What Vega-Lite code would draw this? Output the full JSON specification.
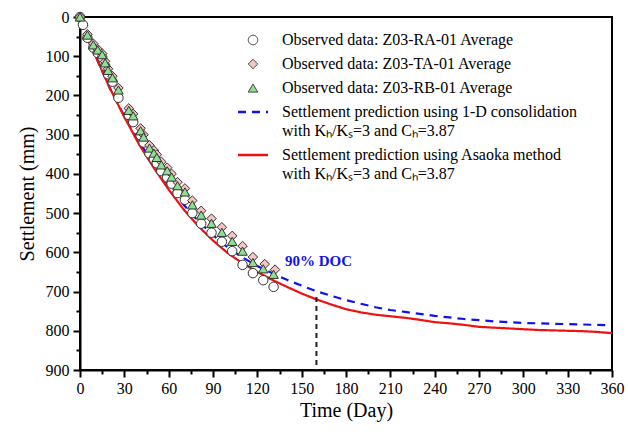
{
  "$schema": "https://vega.github.io/schema/vega-lite/v6.json",
  "width": 532,
  "height": 353,
  "autosize": {"type": "none"},
  "padding": {"left": 80, "top": 17, "right": 16, "bottom": 74},
  "background": "white",
  "config": {
    "view": {"stroke": "black", "strokeWidth": 2},
    "axis": {
      "labelFont": "Liberation Serif", "labelFontSize": 16, "labelColor": "black", "labelFontWeight": "normal",
      "titleFont": "Liberation Serif", "titleFontSize": 20, "titleFontWeight": "normal", "titleColor": "black",
      "domainColor": "black", "domainWidth": 2, "tickColor": "black", "tickWidth": 2, "grid": false, "labelFlush": false, "labelOverlap": false
    },
    "legend": {
      "labelFont": "Liberation Serif", "labelFontSize": 16, "labelColor": "black", "labelLimit": 0
    }
  },
  "datasets": {
    "curves": [
      {"series": "D", "day": 3, "mm": 40}, {"series": "D", "day": 10, "mm": 95}, {"series": "D", "day": 20, "mm": 180},
      {"series": "D", "day": 30, "mm": 253}, {"series": "D", "day": 40, "mm": 318}, {"series": "D", "day": 50, "mm": 376},
      {"series": "D", "day": 60, "mm": 430}, {"series": "D", "day": 70, "mm": 478}, {"series": "D", "day": 80, "mm": 520},
      {"series": "D", "day": 90, "mm": 556}, {"series": "D", "day": 100, "mm": 588}, {"series": "D", "day": 110, "mm": 613},
      {"series": "D", "day": 120, "mm": 635}, {"series": "D", "day": 130, "mm": 653}, {"series": "D", "day": 140, "mm": 670},
      {"series": "D", "day": 150, "mm": 685}, {"series": "D", "day": 160, "mm": 699}, {"series": "D", "day": 170, "mm": 711},
      {"series": "D", "day": 180, "mm": 722}, {"series": "D", "day": 190, "mm": 731}, {"series": "D", "day": 200, "mm": 740},
      {"series": "D", "day": 210, "mm": 747}, {"series": "D", "day": 220, "mm": 752}, {"series": "D", "day": 230, "mm": 757},
      {"series": "D", "day": 240, "mm": 762}, {"series": "D", "day": 250, "mm": 766}, {"series": "D", "day": 260, "mm": 770},
      {"series": "D", "day": 270, "mm": 773}, {"series": "D", "day": 280, "mm": 776}, {"series": "D", "day": 290, "mm": 778},
      {"series": "D", "day": 300, "mm": 780}, {"series": "D", "day": 310, "mm": 781}, {"series": "D", "day": 320, "mm": 782},
      {"series": "D", "day": 330, "mm": 783}, {"series": "D", "day": 340, "mm": 784}, {"series": "D", "day": 350, "mm": 785},
      {"series": "D", "day": 358, "mm": 786},
      {"series": "E", "day": 3, "mm": 40}, {"series": "E", "day": 10, "mm": 95}, {"series": "E", "day": 20, "mm": 180},
      {"series": "E", "day": 30, "mm": 255}, {"series": "E", "day": 40, "mm": 325}, {"series": "E", "day": 50, "mm": 385},
      {"series": "E", "day": 60, "mm": 440}, {"series": "E", "day": 70, "mm": 490}, {"series": "E", "day": 80, "mm": 533},
      {"series": "E", "day": 90, "mm": 570}, {"series": "E", "day": 100, "mm": 602}, {"series": "E", "day": 110, "mm": 628},
      {"series": "E", "day": 120, "mm": 650}, {"series": "E", "day": 130, "mm": 670}, {"series": "E", "day": 140, "mm": 688},
      {"series": "E", "day": 150, "mm": 705}, {"series": "E", "day": 160, "mm": 720}, {"series": "E", "day": 170, "mm": 733},
      {"series": "E", "day": 180, "mm": 745}, {"series": "E", "day": 190, "mm": 753}, {"series": "E", "day": 200, "mm": 759},
      {"series": "E", "day": 210, "mm": 763}, {"series": "E", "day": 220, "mm": 767}, {"series": "E", "day": 230, "mm": 772},
      {"series": "E", "day": 240, "mm": 778}, {"series": "E", "day": 250, "mm": 781}, {"series": "E", "day": 260, "mm": 785},
      {"series": "E", "day": 270, "mm": 790}, {"series": "E", "day": 280, "mm": 792}, {"series": "E", "day": 290, "mm": 794},
      {"series": "E", "day": 300, "mm": 796}, {"series": "E", "day": 310, "mm": 798}, {"series": "E", "day": 320, "mm": 799},
      {"series": "E", "day": 330, "mm": 800}, {"series": "E", "day": 340, "mm": 801}, {"series": "E", "day": 350, "mm": 803},
      {"series": "E", "day": 360, "mm": 806}
    ],
    "obs": [
      {"series": "A", "day": 0, "mm": 0}, {"series": "A", "day": 2, "mm": 20}, {"series": "A", "day": 5, "mm": 53},
      {"series": "A", "day": 9, "mm": 78}, {"series": "A", "day": 12, "mm": 92}, {"series": "A", "day": 15, "mm": 103},
      {"series": "A", "day": 17, "mm": 125}, {"series": "A", "day": 19, "mm": 146}, {"series": "A", "day": 22, "mm": 165},
      {"series": "A", "day": 26, "mm": 206}, {"series": "A", "day": 33, "mm": 250}, {"series": "A", "day": 36, "mm": 268},
      {"series": "A", "day": 41, "mm": 302}, {"series": "A", "day": 43, "mm": 320}, {"series": "A", "day": 47, "mm": 348},
      {"series": "A", "day": 50, "mm": 362}, {"series": "A", "day": 52, "mm": 373}, {"series": "A", "day": 55, "mm": 393},
      {"series": "A", "day": 59, "mm": 409}, {"series": "A", "day": 62, "mm": 425}, {"series": "A", "day": 66, "mm": 449},
      {"series": "A", "day": 71, "mm": 466}, {"series": "A", "day": 76, "mm": 500}, {"series": "A", "day": 82, "mm": 527},
      {"series": "A", "day": 89, "mm": 550}, {"series": "A", "day": 96, "mm": 573}, {"series": "A", "day": 103, "mm": 597},
      {"series": "A", "day": 110, "mm": 632}, {"series": "A", "day": 117, "mm": 653}, {"series": "A", "day": 124, "mm": 671},
      {"series": "A", "day": 131, "mm": 688},
      {"series": "B", "day": 0, "mm": 0}, {"series": "B", "day": 5, "mm": 44}, {"series": "B", "day": 9, "mm": 68},
      {"series": "B", "day": 12, "mm": 82}, {"series": "B", "day": 15, "mm": 93}, {"series": "B", "day": 17, "mm": 113},
      {"series": "B", "day": 19, "mm": 132}, {"series": "B", "day": 22, "mm": 151}, {"series": "B", "day": 26, "mm": 181},
      {"series": "B", "day": 33, "mm": 233}, {"series": "B", "day": 36, "mm": 247}, {"series": "B", "day": 41, "mm": 284},
      {"series": "B", "day": 43, "mm": 300}, {"series": "B", "day": 47, "mm": 327}, {"series": "B", "day": 50, "mm": 340},
      {"series": "B", "day": 52, "mm": 351}, {"series": "B", "day": 55, "mm": 369}, {"series": "B", "day": 59, "mm": 384},
      {"series": "B", "day": 62, "mm": 400}, {"series": "B", "day": 66, "mm": 421}, {"series": "B", "day": 71, "mm": 437},
      {"series": "B", "day": 76, "mm": 468}, {"series": "B", "day": 82, "mm": 494}, {"series": "B", "day": 89, "mm": 514},
      {"series": "B", "day": 96, "mm": 536}, {"series": "B", "day": 103, "mm": 558}, {"series": "B", "day": 110, "mm": 584},
      {"series": "B", "day": 117, "mm": 612}, {"series": "B", "day": 125, "mm": 630}, {"series": "B", "day": 132, "mm": 644},
      {"series": "C", "day": 0, "mm": 0}, {"series": "C", "day": 5, "mm": 46}, {"series": "C", "day": 9, "mm": 71},
      {"series": "C", "day": 12, "mm": 84}, {"series": "C", "day": 15, "mm": 96}, {"series": "C", "day": 17, "mm": 117},
      {"series": "C", "day": 19, "mm": 136}, {"series": "C", "day": 22, "mm": 155}, {"series": "C", "day": 26, "mm": 186},
      {"series": "C", "day": 33, "mm": 238}, {"series": "C", "day": 36, "mm": 252}, {"series": "C", "day": 41, "mm": 290},
      {"series": "C", "day": 43, "mm": 306}, {"series": "C", "day": 47, "mm": 334}, {"series": "C", "day": 50, "mm": 347},
      {"series": "C", "day": 52, "mm": 358}, {"series": "C", "day": 55, "mm": 377}, {"series": "C", "day": 59, "mm": 392},
      {"series": "C", "day": 62, "mm": 408}, {"series": "C", "day": 66, "mm": 430}, {"series": "C", "day": 71, "mm": 446},
      {"series": "C", "day": 76, "mm": 479}, {"series": "C", "day": 82, "mm": 505}, {"series": "C", "day": 89, "mm": 526},
      {"series": "C", "day": 96, "mm": 549}, {"series": "C", "day": 103, "mm": 572}, {"series": "C", "day": 110, "mm": 597},
      {"series": "C", "day": 117, "mm": 626}, {"series": "C", "day": 124, "mm": 642}, {"series": "C", "day": 131, "mm": 656}
    ],
    "doc": [{"day": 160, "mm": 714, "mm2": 900}],
    "doclabel": [{"day": 160, "mm": 622, "label": "90% DOC"}]
  },
  "layer": [
    {
      "data": {"name": "curves"},
      "mark": {"type": "line", "strokeWidth": 2.2, "clip": true},
      "encoding": {
        "x": {"field": "day", "type": "quantitative", "scale": {"domain": [0, 360], "nice": false, "zero": false},
          "axis": {"values": [0, 15, 30, 45, 60, 75, 90, 105, 120, 135, 150, 165, 180, 195, 210, 225, 240, 255, 270, 285, 300, 315, 330, 345, 360],
            "labelExpr": "datum.value % 30 == 0 ? datum.label : ''", "labelOverlap": false,
            "tickSize": {"condition": {"test": "datum.value % 30 != 0", "value": 4}, "value": 7},
            "title": "Time (Day)", "labelPadding": 3, "titlePadding": 4}},
        "y": {"field": "mm", "type": "quantitative", "scale": {"domain": [0, 900], "reverse": true, "nice": false, "zero": false},
          "axis": {"values": [0, 50, 100, 150, 200, 250, 300, 350, 400, 450, 500, 550, 600, 650, 700, 750, 800, 850, 900],
            "labelExpr": "datum.value % 100 == 0 ? datum.label : ''", "labelOverlap": false,
            "tickSize": {"condition": {"test": "datum.value % 100 != 0", "value": 4}, "value": 7},
            "title": "Settlement (mm)", "labelPadding": 4, "titlePadding": 8}},
        "stroke": {"field": "series", "type": "nominal",
          "scale": {"domain": ["A", "B", "C", "D", "E"], "range": ["#333333", "#333333", "#333333", "#1010F0", "#F01010"]},
          "legend": {
            "title": null, "orient": "none", "legendX": 165, "legendY": 15, "rowPadding": 8, "labelOffset": 21,
            "labelExpr": "datum.value == 'A' ? 'Observed data: Z03-RA-01 Average' : datum.value == 'B' ? 'Observed data: Z03-TA-01 Average' : datum.value == 'C' ? 'Observed data: Z03-RB-01 Average' : datum.value == 'D' ? ['Settlement prediction using 1-D consolidation', 'with Kₕ/Kₛ=3 and Cₕ=3.87'] : ['Settlement prediction using Asaoka method', 'with Kₕ/Kₛ=3 and Cₕ=3.87']",
            "symbolType": "circle",
            "encode": {
              "symbols": {"update": {
                "size": {"signal": "datum.value == 'D' || datum.value == 'E' ? 900 : 90"},
                "strokeWidth": {"signal": "datum.value == 'D' || datum.value == 'E' ? 2.5 : 1"}
              }},
              "labels": {"update": {"lineHeight": {"value": 19}}}
            }
          }},
        "strokeDash": {"field": "series", "type": "nominal",
          "scale": {"domain": ["A", "B", "C", "D", "E"], "range": [[1, 0], [1, 0], [1, 0], [8, 6], [1, 0]]}}
      }
    },
    {
      "data": {"name": "obs"},
      "mark": {"type": "point", "filled": false, "strokeWidth": 1, "opacity": 1},
      "encoding": {
        "x": {"field": "day", "type": "quantitative",
          "axis": {"values": [0, 15, 30, 45, 60, 75, 90, 105, 120, 135, 150, 165, 180, 195, 210, 225, 240, 255, 270, 285, 300, 315, 330, 345, 360],
            "labelExpr": "datum.value % 30 == 0 ? datum.label : ''", "labelOverlap": false,
            "tickSize": {"condition": {"test": "datum.value % 30 != 0", "value": 4}, "value": 7},
            "title": "Time (Day)", "labelPadding": 3, "titlePadding": 4}},
        "y": {"field": "mm", "type": "quantitative",
          "axis": {"values": [0, 50, 100, 150, 200, 250, 300, 350, 400, 450, 500, 550, 600, 650, 700, 750, 800, 850, 900],
            "labelExpr": "datum.value % 100 == 0 ? datum.label : ''", "labelOverlap": false,
            "tickSize": {"condition": {"test": "datum.value % 100 != 0", "value": 4}, "value": 7},
            "title": "Settlement (mm)", "labelPadding": 4, "titlePadding": 8}},
        "stroke": {"field": "series", "type": "nominal"},
        "shape": {"field": "series", "type": "nominal",
          "scale": {"domain": ["A", "B", "C", "D", "E"], "range": ["circle", "diamond", "triangle-up", "stroke", "stroke"]}},
        "fill": {"field": "series", "type": "nominal",
          "scale": {"domain": ["A", "B", "C", "D", "E"], "range": ["#FFFFFF", "#F6C4C4", "#8EE08E", "transparent", "transparent"]}},
        "size": {"value": 90}
      }
    },
    {
      "data": {"name": "doc"},
      "mark": {"type": "rule", "strokeDash": [5, 4], "strokeWidth": 2, "color": "#222222"},
      "encoding": {
        "x": {"field": "day", "type": "quantitative",
          "axis": {"values": [0, 15, 30, 45, 60, 75, 90, 105, 120, 135, 150, 165, 180, 195, 210, 225, 240, 255, 270, 285, 300, 315, 330, 345, 360],
            "labelExpr": "datum.value % 30 == 0 ? datum.label : ''", "labelOverlap": false,
            "tickSize": {"condition": {"test": "datum.value % 30 != 0", "value": 4}, "value": 7},
            "title": "Time (Day)", "labelPadding": 3, "titlePadding": 4}},
        "y": {"field": "mm", "type": "quantitative",
          "axis": {"values": [0, 50, 100, 150, 200, 250, 300, 350, 400, 450, 500, 550, 600, 650, 700, 750, 800, 850, 900],
            "labelExpr": "datum.value % 100 == 0 ? datum.label : ''", "labelOverlap": false,
            "tickSize": {"condition": {"test": "datum.value % 100 != 0", "value": 4}, "value": 7},
            "title": "Settlement (mm)", "labelPadding": 4, "titlePadding": 8}},
        "y2": {"field": "mm2"}
      }
    },
    {
      "data": {"name": "doclabel"},
      "mark": {"type": "text", "font": "Liberation Serif", "fontSize": 15, "fontWeight": "bold", "color": "#1010F0", "align": "center", "baseline": "middle", "dx": 2},
      "encoding": {
        "x": {"field": "day", "type": "quantitative",
          "axis": {"values": [0, 15, 30, 45, 60, 75, 90, 105, 120, 135, 150, 165, 180, 195, 210, 225, 240, 255, 270, 285, 300, 315, 330, 345, 360],
            "labelExpr": "datum.value % 30 == 0 ? datum.label : ''", "labelOverlap": false,
            "tickSize": {"condition": {"test": "datum.value % 30 != 0", "value": 4}, "value": 7},
            "title": "Time (Day)", "labelPadding": 3, "titlePadding": 4}},
        "y": {"field": "mm", "type": "quantitative",
          "axis": {"values": [0, 50, 100, 150, 200, 250, 300, 350, 400, 450, 500, 550, 600, 650, 700, 750, 800, 850, 900],
            "labelExpr": "datum.value % 100 == 0 ? datum.label : ''", "labelOverlap": false,
            "tickSize": {"condition": {"test": "datum.value % 100 != 0", "value": 4}, "value": 7},
            "title": "Settlement (mm)", "labelPadding": 4, "titlePadding": 8}},
        "text": {"field": "label"}
      }
    }
  ]
}
